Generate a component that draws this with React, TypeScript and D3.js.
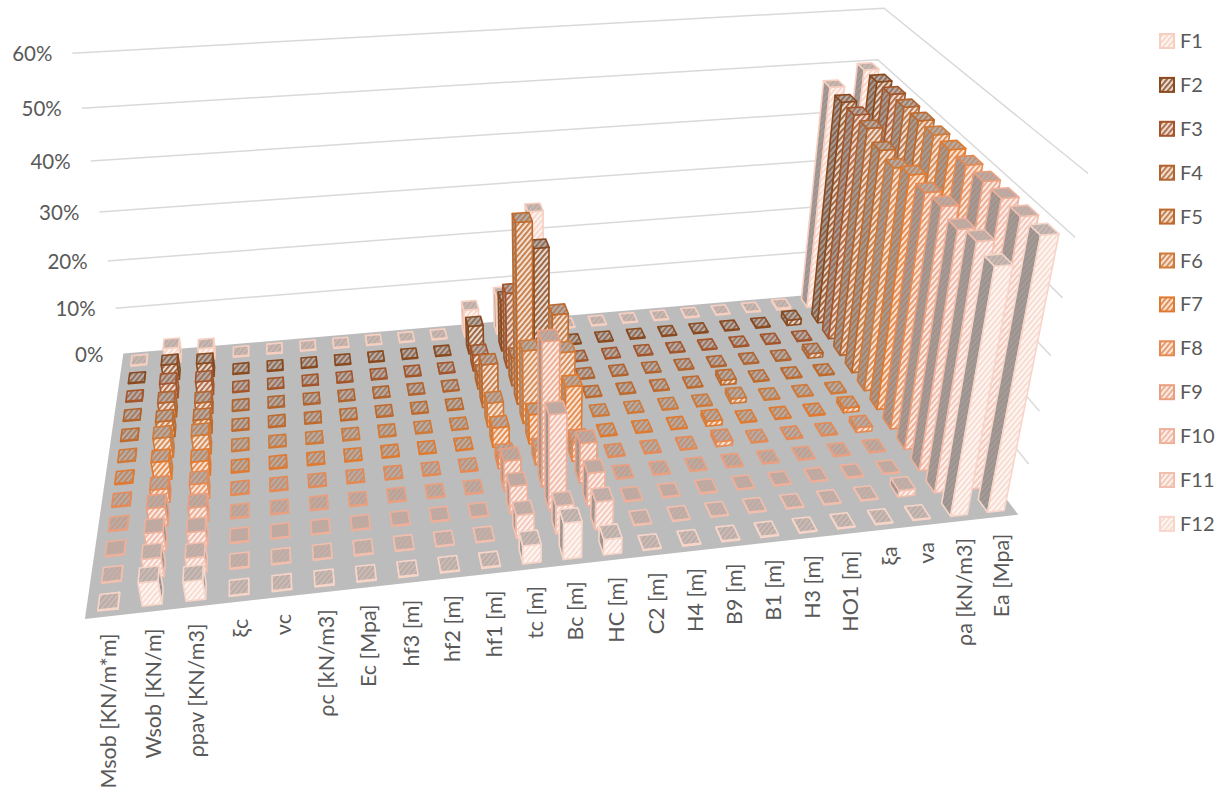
import React from "react";
import * as d3 from "d3";

// Category order along the floor, left to right.
const categories = ["Msob [KN/m*m]","Wsob [KN/m]","ρpav [KN/m3]","ξc","νc","ρc [kN/m3]","Ec [Mpa]","hf3 [m]","hf2 [m]","hf1 [m]","tc [m]","Bc [m]","HC [m]","C2 [m]","H4 [m]","B9 [m]","B1 [m]","H3 [m]","HO1 [m]","ξa","νa","ρa [kN/m3]","Ea [Mpa]"];
const seriesNames = ["F1","F2","F3","F4","F5","F6","F7","F8","F9","F10","F11","F12"];
const seriesColors = ["#f7cfc0","#8a4a1f","#a5552a","#b2642f","#bf6a2c","#d07a3a","#e07a30","#e58a55","#e9a080","#eeb09a","#f2bfae","#f7d5c8"];
const ticks = [0,10,20,30,40,50,60];

// Sensitivity (%) of each factor, one list per series.
const f1  = [0.2,3.2,2.5,0.2,0.2,0.2,0.2,0.2,0.2,0.2,6,8.5,26,0.2,0.2,0.2,0.2,0.2,0.2,0.2,0.4,47,50];
const f2  = [0.2,3.4,3,0.2,0.2,0.2,0.2,0.2,0.2,0.2,6,11,21.5,0.2,0.2,0.2,0.2,0.2,0.2,0.2,1.2,46.5,50];
const f3  = [0.2,3.2,3,0.2,0.2,0.2,0.2,0.2,0.2,0.2,3.5,16,3,0.2,0.2,0.2,0.2,0.2,0.2,0.2,0.2,46.5,50];
const f4  = [0.2,3.2,2.5,0.2,0.2,0.2,0.2,0.2,0.2,0.2,3,6,3,0.2,0.2,0.2,0.2,0.2,0.2,0.2,1,46.5,50];
const f5  = [0.2,3.4,3,0.2,0.2,0.2,0.2,0.2,0.2,0.2,9,36.5,18,0.2,0.2,0.2,0.2,1,0.2,0.2,0.2,45,50];
const f6  = [0.2,4.2,4,0.2,0.2,0.2,0.2,0.2,0.2,0.2,5,15,14,0.2,0.2,0.2,0.2,1,0.2,0.2,0.2,44.5,50];
const f7  = [0.2,3.7,3,0.2,0.2,0.2,0.2,0.2,0.2,0.2,4,6,11,0.2,0.2,0.2,1,0.2,0.2,0.2,1,46,50];
const f8  = [0.2,2.7,3,0.2,0.2,0.2,0.2,0.2,0.2,0.2,2.5,3,4,0.2,0.2,0.2,1,0.2,0.2,0.2,1,45.7,50];
const f9  = [0.2,3.7,3,0.2,0.2,0.2,0.2,0.2,0.2,0.2,6,28,8,0.2,0.2,0.2,0.2,0.2,0.2,0.2,0.2,46.2,50];
const f10 = [0.2,3.7,3,0.2,0.2,0.2,0.2,0.2,0.2,0.2,5.5,18.5,6.5,0.2,0.2,0.2,0.2,0.2,0.2,0.2,0.2,45.3,50];
const f11 = [0.2,3.7,3,0.2,0.2,0.2,0.2,0.2,0.2,0.2,4.5,5.5,5.5,0.2,0.2,0.2,0.2,0.2,0.2,0.2,1.3,46.4,50];
const f12 = [0.2,4.4,3.7,0.2,0.2,0.2,0.2,0.2,0.2,0.2,3.5,7,3,0.2,0.2,0.2,0.2,0.2,0.2,0.2,0.2,45.5,50];
const seriesValues = [f1,f2,f3,f4,f5,f6,f7,f8,f9,f10,f11,f12];

// Camera calibration: box coordinates (x, depth, height) and where they fall on screen.
const cameraAnchors: [number,number,number,number,number][] = [
  [0,0,0,123,352],[1,0,0,850,293],[1,1,0,1018,514],[0,1,0,85,620],
  [0,0,1,72,54],[0,0,0.5,100,212],[1,0,1,884,8],[1,0,5/6,878,59],
  [1,1,1,1088,174],[1,1,0.5,1051,355],
];

// Least-squares projective camera through the anchors.
function buildCamera() {
  const n=11;
  const M=Array.from({length:n},()=>new Array(n+1).fill(0));
  const add=(r:number[],v:number)=>{ for(let i=0;i<n;i++){ for(let j=0;j<n;j++) M[i][j]+=r[i]*r[j]; M[i][n]+=r[i]*v; } };
  for(const [x,y,z,u,v] of cameraAnchors){
    add([x,y,z,1,0,0,0,0,-u*x,-u*y,-u*z],u);
    add([0,0,0,0,x,y,z,1,-v*x,-v*y,-v*z],v);
  }
  for(let i=0;i<n;i++){
    let p=i; for(let r=i+1;r<n;r++) if(Math.abs(M[r][i])>Math.abs(M[p][i])) p=r;
    [M[i],M[p]]=[M[p],M[i]];
    for(let r=0;r<n;r++) if(r!==i){ const k=M[r][i]/M[i][i]; for(let j=i;j<=n;j++) M[r][j]-=k*M[i][j]; }
  }
  const P=M.map((row,i)=>row[n]/row[i]);
  return (x:number,y:number,z:number):[number,number]=>{
    const w=P[8]*x+P[9]*y+P[10]*z+1;
    return [(P[0]*x+P[1]*y+P[2]*z+P[3])/w,(P[4]*x+P[5]*y+P[6]*z+P[7])/w];
  };
}
const project = buildCamera();

const xBand = d3.scaleBand<string>().domain(categories).range([0,1]).paddingInner(0.55).paddingOuter(0.275);
const yBand = d3.scaleBand<string>().domain(seriesNames).range([0,1]).paddingInner(0.45).paddingOuter(0.225);
const zScale = d3.scaleLinear().domain([0,60]).range([0,1]);

const toPath = (pts:[number,number][]) => d3.line()(pts)+"Z";
// d3.polygonArea is positive for counterclockwise rings on a y-down screen.
const facesViewer = (pts:[number,number][]) => d3.polygonArea(pts) > 0;

// Paler series lose their tint on the shaded side faces.
const faceStyles = {
  front: (c:string)=>({bg:d3.interpolateRgb(c,"#ffffff")(0.8), stripe:d3.interpolateRgb(c,"#ffffff")(0.1)}),
  side:  (c:string)=>({bg:"#a39c98", stripe:d3.interpolateRgb(c,"#8a8280")(Math.min(0.85,d3.hsl(c).l*0.95))}),
  top:   (c:string)=>({bg:"#b5aeaa", stripe:d3.interpolateRgb(c,"#9a9290")(0.4)}),
};

function Bars() {
  const viewerX = 0.42;
  const bars: {i:number,s:number,v:number}[] = [];
  seriesValues.forEach((vals,s)=>vals.forEach((v,i)=>bars.push({i,s,v})));
  bars.sort((p,q)=> p.s-q.s || Math.abs(q.i/22-viewerX)-Math.abs(p.i/22-viewerX));
  return <g>{bars.map(({i,s,v})=>{
    const name=seriesNames[s], color=seriesColors[s];
    const x0=xBand(categories[i])!, x1=x0+xBand.bandwidth();
    const y0=yBand(name)!, y1=y0+yBand.bandwidth();
    const z=zScale(v);
    const front:[number,number][]=[project(x0,y1,0),project(x1,y1,0),project(x1,y1,z),project(x0,y1,z)];
    const left:[number,number][]=[project(x0,y0,0),project(x0,y1,0),project(x0,y1,z),project(x0,y0,z)];
    const right:[number,number][]=[project(x1,y1,0),project(x1,y0,0),project(x1,y0,z),project(x1,y1,z)];
    const top:[number,number][]=[project(x0,y1,z),project(x1,y1,z),project(x1,y0,z),project(x0,y0,z)];
    const stroke={stroke:color,strokeWidth:1.6,strokeLinejoin:"round" as const};
    return <g key={name+i}>
      {facesViewer(left) && <path d={toPath(left)} fill={`url(#side${s})`} {...stroke}/>}
      {facesViewer(right) && <path d={toPath(right)} fill={`url(#side${s})`} {...stroke}/>}
      <path d={toPath(front)} fill={`url(#front${s})`} {...stroke}/>
      <path d={toPath(top)} fill={`url(#top${s})`} {...stroke}/>
    </g>;
  })}</g>;
}

export default function App() {
  const textFill="#595959", font="Lato, 'Noto Sans', sans-serif", grid="#d9d9d9";
  return (
    <svg width={1227} height={793} style={{position:"absolute",left:0,top:0,background:"#fff"}} fontFamily={font}>
      <defs>
        {seriesColors.map((c,s)=>(Object.keys(faceStyles) as (keyof typeof faceStyles)[]).map(k=>{
          const st=faceStyles[k](c);
          return <pattern key={k+s} id={`${k}${s}`} width={4} height={4} patternUnits="userSpaceOnUse" patternTransform="rotate(40)">
            <rect width={4} height={4} fill={st.bg}/>
            <rect width={1.8} height={4} fill={st.stripe}/>
          </pattern>;
        }))}
      </defs>

      {/* Walls: gridlines run along the back wall, then down the right wall */}
      {ticks.filter(t=>t>0).map(t=>{
        const z=zScale(t);
        return <path key={t} d={d3.line()([project(0,0,z),project(1,0,z),project(1,1,z)])!} fill="none" stroke={grid} strokeWidth={1.5}/>;
      })}

      {/* Floor */}
      <path d={toPath([project(0,0,0),project(1,0,0),project(1,1,0),project(0,1,0)])} fill="#bcbcbc"/>

      <Bars/>

      {/* Value axis */}
      {ticks.map(t=>{
        const [x,y]=project(0,0,zScale(t));
        return <text key={t} x={x-20} y={y+8} textAnchor="end" fontSize={20.5} fill={textFill}>{t}%</text>;
      })}

      {/* Category axis */}
      {categories.map(c=>{
        const [x,y]=project(xBand(c)!+xBand.bandwidth()/2,1,0);
        return <text key={c} transform={`translate(${x+9},${y+17}) rotate(-90)`} textAnchor="end" fontSize={21.5} fill={textFill}>{c}</text>;
      })}

      {/* Legend */}
      {seriesNames.map((n,s)=>{
        const y=41+s*43.9;
        return <g key={n}>
          <rect x={1160} y={y-7} width={14} height={14} fill={`url(#front${s})`} stroke={seriesColors[s]} strokeWidth={2}/>
          <text x={1180} y={y+7} fontSize={20} fill={textFill}>{n}</text>
        </g>;
      })}
    </svg>
  );
}
